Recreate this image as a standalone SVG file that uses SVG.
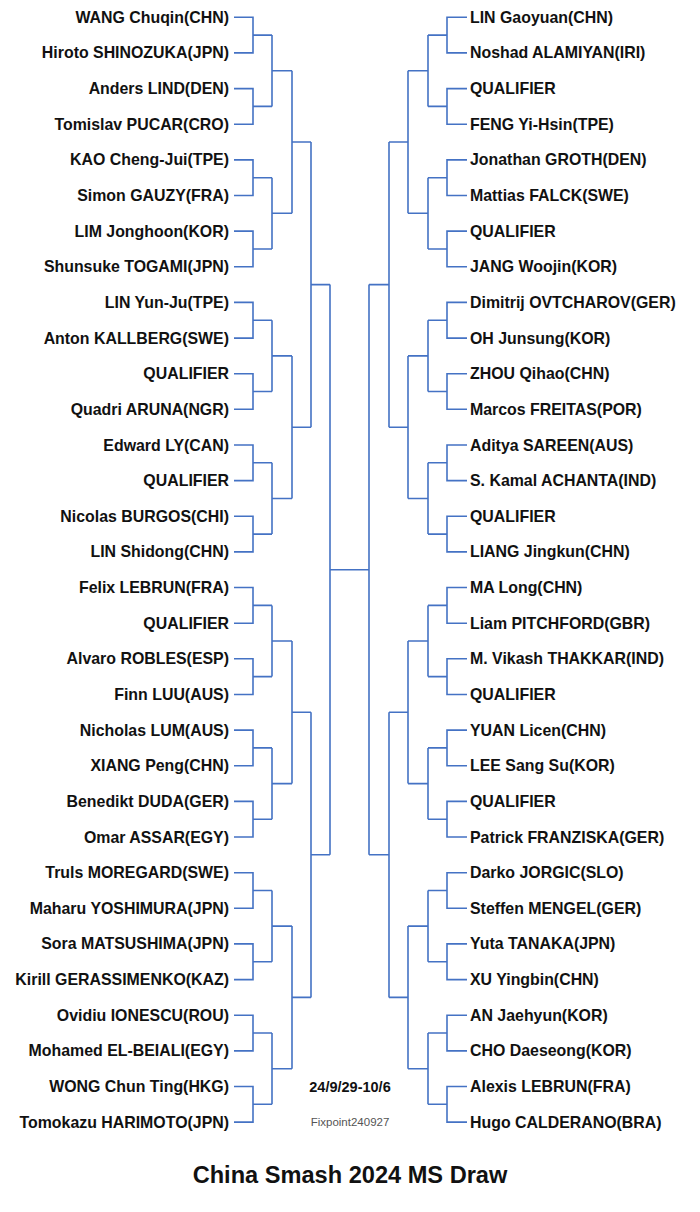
<svg xmlns="http://www.w3.org/2000/svg" width="700" height="1212" viewBox="0 0 700 1212">
<style>
.n{font-family:"Liberation Sans",Arial,sans-serif;font-weight:bold;font-size:15.9px;fill:#111}
.l{text-anchor:end}
.c{fill:none;stroke:#4472C4;stroke-width:1.6}
</style>
<rect width="700" height="1212" fill="#fff"/>
<g id="connectors" class="c">
<path d="M234 17.3H253V52.9H234M253 35.1H272M234 88.6H253V124.2H234M253 106.4H272M234 159.9H253V195.5H234M253 177.7H272M234 231.1H253V266.8H234M253 249H272M234 302.4H253V338.1H234M253 320.2H272M234 373.7H253V409.3H234M253 391.5H272M234 445H253V480.6H234M253 462.8H272M234 516.3H253V551.9H234M253 534.1H272M234 587.5H253V623.2H234M253 605.4H272M234 658.8H253V694.5H234M253 676.6H272M234 730.1H253V765.7H234M253 747.9H272M234 801.4H253V837H234M253 819.2H272M234 872.7H253V908.3H234M253 890.5H272M234 943.9H253V979.6H234M253 961.8H272M234 1015.2H253V1050.9H234M253 1033H272M234 1086.5H253V1122.1H234M253 1104.3H272"/>
<path d="M272 35.1V106.4M272 70.8H292M272 177.7V249M272 213.3H292M272 320.2V391.5M272 355.9H292M272 462.8V534.1M272 498.5H292M272 605.4V676.6M272 641H292M272 747.9V819.2M272 783.6H292M272 890.5V961.8M272 926.1H292M272 1033V1104.3M272 1068.7H292"/>
<path d="M292 70.8V213.3M292 142H311M292 355.9V498.5M292 427.2H311M292 641V783.6M292 712.3H311M292 926.1V1068.7M292 997.4H311"/>
<path d="M311 142V427.2M311 284.6H330M311 712.3V997.4M311 854.8H330"/>
<path d="M330 284.6V854.8M330 569.7H369M369 284.6V854.8"/>
<path d="M389 142V427.2M389 284.6H369M389 712.3V997.4M389 854.8H369"/>
<path d="M408 70.8V213.3M408 142H389M408 355.9V498.5M408 427.2H389M408 641V783.6M408 712.3H389M408 926.1V1068.7M408 997.4H389"/>
<path d="M428 35.1V106.4M428 70.8H408M428 177.7V249M428 213.3H408M428 320.2V391.5M428 355.9H408M428 462.8V534.1M428 498.5H408M428 605.4V676.6M428 641H408M428 747.9V819.2M428 783.6H408M428 890.5V961.8M428 926.1H408M428 1033V1104.3M428 1068.7H408"/>
<path d="M467 17.3H447V52.9H467M447 35.1H428M467 88.6H447V124.2H467M447 106.4H428M467 159.9H447V195.5H467M447 177.7H428M467 231.1H447V266.8H467M447 249H428M467 302.4H447V338.1H467M447 320.2H428M467 373.7H447V409.3H467M447 391.5H428M467 445H447V480.6H467M447 462.8H428M467 516.3H447V551.9H467M447 534.1H428M467 587.5H447V623.2H467M447 605.4H428M467 658.8H447V694.5H467M447 676.6H428M467 730.1H447V765.7H467M447 747.9H428M467 801.4H447V837H467M447 819.2H428M467 872.7H447V908.3H467M447 890.5H428M467 943.9H447V979.6H467M447 961.8H428M467 1015.2H447V1050.9H467M447 1033H428M467 1086.5H447V1122.1H467M447 1104.3H428"/>
</g>
<g class="n l">
<g id="L00"><text x="229" y="22.8">WANG Chuqin(CHN)</text></g>
<g id="L01"><text x="229" y="58.4">Hiroto SHINOZUKA(JPN)</text></g>
<g id="L02"><text x="229" y="94.1">Anders LIND(DEN)</text></g>
<g id="L03"><text x="229" y="129.7">Tomislav PUCAR(CRO)</text></g>
<g id="L04"><text x="229" y="165.4">KAO Cheng-Jui(TPE)</text></g>
<g id="L05"><text x="229" y="201">Simon GAUZY(FRA)</text></g>
<g id="L06"><text x="229" y="236.6">LIM Jonghoon(KOR)</text></g>
<g id="L07"><text x="229" y="272.3">Shunsuke TOGAMI(JPN)</text></g>
<g id="L08"><text x="229" y="307.9">LIN Yun-Ju(TPE)</text></g>
<g id="L09"><text x="229" y="343.6">Anton KALLBERG(SWE)</text></g>
<g id="L10"><text x="229" y="379.2">QUALIFIER</text></g>
<g id="L11"><text x="229" y="414.8">Quadri ARUNA(NGR)</text></g>
<g id="L12"><text x="229" y="450.5">Edward LY(CAN)</text></g>
<g id="L13"><text x="229" y="486.1">QUALIFIER</text></g>
<g id="L14"><text x="229" y="521.8">Nicolas BURGOS(CHI)</text></g>
<g id="L15"><text x="229" y="557.4">LIN Shidong(CHN)</text></g>
<g id="L16"><text x="229" y="593">Felix LEBRUN(FRA)</text></g>
<g id="L17"><text x="229" y="628.7">QUALIFIER</text></g>
<g id="L18"><text x="229" y="664.3">Alvaro ROBLES(ESP)</text></g>
<g id="L19"><text x="229" y="700">Finn LUU(AUS)</text></g>
<g id="L20"><text x="229" y="735.6">Nicholas LUM(AUS)</text></g>
<g id="L21"><text x="229" y="771.2">XIANG Peng(CHN)</text></g>
<g id="L22"><text x="229" y="806.9">Benedikt DUDA(GER)</text></g>
<g id="L23"><text x="229" y="842.5">Omar ASSAR(EGY)</text></g>
<g id="L24"><text x="229" y="878.2">Truls MOREGARD(SWE)</text></g>
<g id="L25"><text x="229" y="913.8">Maharu YOSHIMURA(JPN)</text></g>
<g id="L26"><text x="229" y="949.4">Sora MATSUSHIMA(JPN)</text></g>
<g id="L27"><text x="229" y="985.1">Kirill GERASSIMENKO(KAZ)</text></g>
<g id="L28"><text x="229" y="1020.7">Ovidiu IONESCU(ROU)</text></g>
<g id="L29"><text x="229" y="1056.4">Mohamed EL-BEIALI(EGY)</text></g>
<g id="L30"><text x="229" y="1092">WONG Chun Ting(HKG)</text></g>
<g id="L31"><text x="229" y="1127.6">Tomokazu HARIMOTO(JPN)</text></g>
</g>
<g class="n">
<g id="R00"><text x="470" y="22.8">LIN Gaoyuan(CHN)</text></g>
<g id="R01"><text x="470" y="58.4">Noshad ALAMIYAN(IRI)</text></g>
<g id="R02"><text x="470" y="94.1">QUALIFIER</text></g>
<g id="R03"><text x="470" y="129.7">FENG Yi-Hsin(TPE)</text></g>
<g id="R04"><text x="470" y="165.4">Jonathan GROTH(DEN)</text></g>
<g id="R05"><text x="470" y="201">Mattias FALCK(SWE)</text></g>
<g id="R06"><text x="470" y="236.6">QUALIFIER</text></g>
<g id="R07"><text x="470" y="272.3">JANG Woojin(KOR)</text></g>
<g id="R08"><text x="470" y="307.9">Dimitrij OVTCHAROV(GER)</text></g>
<g id="R09"><text x="470" y="343.6">OH Junsung(KOR)</text></g>
<g id="R10"><text x="470" y="379.2">ZHOU Qihao(CHN)</text></g>
<g id="R11"><text x="470" y="414.8">Marcos FREITAS(POR)</text></g>
<g id="R12"><text x="470" y="450.5">Aditya SAREEN(AUS)</text></g>
<g id="R13"><text x="470" y="486.1">S. Kamal ACHANTA(IND)</text></g>
<g id="R14"><text x="470" y="521.8">QUALIFIER</text></g>
<g id="R15"><text x="470" y="557.4">LIANG Jingkun(CHN)</text></g>
<g id="R16"><text x="470" y="593">MA Long(CHN)</text></g>
<g id="R17"><text x="470" y="628.7">Liam PITCHFORD(GBR)</text></g>
<g id="R18"><text x="470" y="664.3">M. Vikash THAKKAR(IND)</text></g>
<g id="R19"><text x="470" y="700">QUALIFIER</text></g>
<g id="R20"><text x="470" y="735.6">YUAN Licen(CHN)</text></g>
<g id="R21"><text x="470" y="771.2">LEE Sang Su(KOR)</text></g>
<g id="R22"><text x="470" y="806.9">QUALIFIER</text></g>
<g id="R23"><text x="470" y="842.5">Patrick FRANZISKA(GER)</text></g>
<g id="R24"><text x="470" y="878.2">Darko JORGIC(SLO)</text></g>
<g id="R25"><text x="470" y="913.8">Steffen MENGEL(GER)</text></g>
<g id="R26"><text x="470" y="949.4">Yuta TANAKA(JPN)</text></g>
<g id="R27"><text x="470" y="985.1">XU Yingbin(CHN)</text></g>
<g id="R28"><text x="470" y="1020.7">AN Jaehyun(KOR)</text></g>
<g id="R29"><text x="470" y="1056.4">CHO Daeseong(KOR)</text></g>
<g id="R30"><text x="470" y="1092">Alexis LEBRUN(FRA)</text></g>
<g id="R31"><text x="470" y="1127.6">Hugo CALDERANO(BRA)</text></g>
</g>
<g id="info" font-family="Liberation Sans, Arial, sans-serif" text-anchor="middle">
<text x="350" y="1091.5" font-size="14.5" font-weight="bold" fill="#111">24/9/29-10/6</text>
<text x="350" y="1126" font-size="11.5" fill="#555">Fixpoint240927</text>
<text x="350" y="1182.5" font-size="23.6" font-weight="bold" fill="#111">China Smash 2024 MS Draw</text>
</g>
</svg>
